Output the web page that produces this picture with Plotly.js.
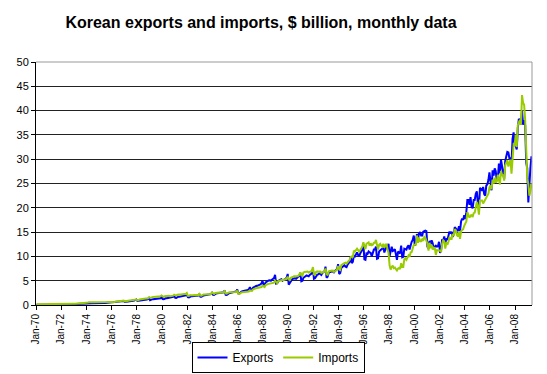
<!DOCTYPE html>
<html>
<head>
<meta charset="utf-8">
<script src="https://cdn.plot.ly/plotly-3.0.1.min.js"></script>
<style>html,body{margin:0;padding:0;background:#fff;}#chart{width:547px;height:374px;}</style>
</head>
<body>
<div id="chart"></div>
<script>
// Monthly data, Jan 1970 .. Apr 2009 ($ billion)
var startYear = 1970;
var exports = [
/*1970*/0.05,0.05,0.06,0.06,0.07,0.07,0.07,0.07,0.08,0.08,0.08,0.10,
/*1971*/0.07,0.07,0.08,0.09,0.09,0.09,0.09,0.09,0.09,0.10,0.10,0.13,
/*1972*/0.10,0.10,0.12,0.12,0.13,0.13,0.14,0.14,0.15,0.15,0.16,0.18,
/*1973*/0.18,0.18,0.22,0.24,0.26,0.27,0.28,0.28,0.30,0.31,0.32,0.38,
/*1974*/0.32,0.30,0.36,0.38,0.39,0.38,0.37,0.36,0.36,0.38,0.39,0.47,
/*1975*/0.32,0.30,0.36,0.38,0.41,0.42,0.44,0.45,0.45,0.47,0.48,0.56,
/*1976*/0.48,0.50,0.58,0.60,0.62,0.64,0.66,0.66,0.68,0.70,0.72,0.84,
/*1977*/0.65,0.66,0.76,0.78,0.80,0.82,0.84,0.85,0.88,0.90,0.96,1.14,
/*1978*/0.82,0.84,0.96,0.98,1.02,1.04,1.06,1.08,1.10,1.14,1.22,1.45,
/*1979*/0.98,1.00,1.16,1.20,1.24,1.22,1.25,1.26,1.28,1.32,1.40,1.66,
/*1980*/1.20,1.18,1.32,1.38,1.40,1.44,1.44,1.46,1.50,1.56,1.66,1.96,
/*1981*/1.48,1.45,1.62,1.70,1.72,1.74,1.78,1.80,1.82,1.88,1.98,2.32,
/*1982*/1.60,1.55,1.72,1.78,1.80,1.82,1.80,1.82,1.85,1.88,1.96,2.26,
/*1983*/1.70,1.68,1.92,1.96,2.00,2.04,2.06,2.08,2.12,2.16,2.24,2.52,
/*1984*/2.10,2.05,2.30,2.36,2.40,2.42,2.44,2.48,2.52,2.56,2.62,3.00,
/*1985*/2.10,2.08,2.30,2.40,2.46,2.50,2.52,2.56,2.62,2.68,2.78,3.20,
/*1986*/2.40,2.35,2.62,2.76,2.82,2.86,2.90,2.95,3.02,3.10,3.22,3.68,
/*1987*/3.20,3.10,3.55,3.70,3.80,3.90,3.95,4.00,4.10,4.25,4.40,5.00,
/*1988*/4.20,4.10,4.65,4.85,4.95,5.05,5.10,5.00,5.20,5.35,5.55,6.20,
/*1989*/4.40,4.50,4.90,5.10,5.20,5.30,5.00,5.10,5.30,5.40,5.60,6.40,
/*1990*/4.20,4.60,5.10,5.20,5.40,5.50,5.50,5.40,5.70,5.80,6.00,6.60,
/*1991*/4.90,5.00,5.60,5.80,6.00,6.10,6.00,5.90,6.20,6.40,6.50,7.40,
/*1992*/5.40,5.50,6.00,6.20,6.30,6.50,6.40,6.20,6.60,6.80,6.90,7.90,
/*1993*/5.60,5.80,6.60,6.80,6.80,7.00,6.90,6.70,7.00,7.20,7.40,8.40,
/*1994*/6.40,6.60,7.60,7.80,8.00,8.20,7.90,7.80,8.30,8.60,8.90,9.90,
/*1995*/8.60,8.90,10.2,10.0,10.4,10.8,10.3,10.0,10.6,11.2,11.4,12.6,
/*1996*/9.40,9.30,10.6,10.5,11.0,10.8,10.7,10.0,10.6,11.4,11.4,12.0,
/*1997*/9.50,9.60,11.0,11.3,11.4,11.6,11.8,10.8,11.7,12.0,11.9,12.6,
/*1998*/10.1,10.8,12.0,11.1,11.2,11.5,10.5,9.30,11.0,10.8,10.6,12.2,
/*1999*/9.80,9.90,11.6,11.5,11.4,12.0,12.3,11.4,12.6,13.0,13.4,14.3,
/*2000*/12.2,12.8,14.6,13.6,14.7,15.0,14.3,14.3,15.1,15.2,15.3,15.2,
/*2001*/12.0,11.6,13.2,12.5,13.3,12.7,11.5,12.0,12.2,12.0,12.1,13.0,
/*2002*/10.7,11.3,13.5,13.3,14.1,12.7,13.7,13.4,14.3,15.1,14.7,15.1,
/*2003*/14.0,14.5,16.0,15.7,15.6,15.2,16.2,15.2,17.2,17.8,17.5,18.5,
/*2004*/17.7,19.1,21.6,21.6,20.6,22.2,20.2,19.9,21.6,21.6,22.9,23.4,
/*2005*/20.8,20.0,24.1,23.8,23.5,24.3,22.8,22.5,24.6,24.8,25.7,27.3,
/*2006*/24.5,23.6,27.7,26.6,28.1,27.5,25.6,26.0,29.1,27.1,29.9,28.4,
/*2007*/27.2,25.9,29.6,30.4,31.5,31.4,30.2,30.2,29.1,34.2,35.5,33.3,
/*2008*/32.3,32.0,36.4,38.3,38.0,37.1,40.0,37.1,38.0,37.0,29.3,28.1,
/*2009*/21.1,25.4,28.2,30.6
];
var imports = [
/*1970*/0.14,0.13,0.16,0.17,0.16,0.17,0.17,0.16,0.17,0.17,0.17,0.21,
/*1971*/0.17,0.16,0.19,0.20,0.20,0.21,0.20,0.19,0.20,0.21,0.21,0.25,
/*1972*/0.18,0.17,0.20,0.20,0.21,0.20,0.21,0.20,0.22,0.22,0.23,0.27,
/*1973*/0.26,0.25,0.30,0.32,0.33,0.34,0.36,0.37,0.37,0.39,0.42,0.46,
/*1974*/0.48,0.50,0.55,0.60,0.58,0.57,0.59,0.58,0.56,0.57,0.58,0.65,
/*1975*/0.55,0.52,0.58,0.60,0.60,0.62,0.60,0.60,0.61,0.64,0.63,0.72,
/*1976*/0.60,0.58,0.68,0.72,0.72,0.73,0.75,0.74,0.76,0.78,0.80,0.90,
/*1977*/0.75,0.72,0.84,0.88,0.90,0.92,0.90,0.90,0.94,0.96,0.98,1.12,
/*1978*/0.98,0.96,1.12,1.18,1.22,1.24,1.28,1.30,1.34,1.36,1.38,1.58,
/*1979*/1.50,1.45,1.62,1.70,1.72,1.72,1.68,1.70,1.72,1.76,1.78,1.95,
/*1980*/1.70,1.65,1.80,1.86,1.84,1.86,1.88,1.82,1.86,1.90,1.92,2.12,
/*1981*/1.95,1.90,2.10,2.20,2.18,2.16,2.22,2.18,2.20,2.24,2.26,2.46,
/*1982*/1.90,1.85,2.00,2.05,2.02,2.00,2.04,1.98,2.00,2.04,2.06,2.30,
/*1983*/1.95,1.92,2.10,2.16,2.18,2.20,2.20,2.18,2.20,2.24,2.28,2.54,
/*1984*/2.30,2.28,2.46,2.52,2.55,2.56,2.58,2.52,2.56,2.60,2.64,2.85,
/*1985*/2.40,2.35,2.52,2.58,2.60,2.62,2.60,2.58,2.60,2.64,2.68,2.95,
/*1986*/2.35,2.30,2.52,2.60,2.62,2.64,2.66,2.62,2.66,2.70,2.76,3.00,
/*1987*/2.95,2.90,3.20,3.35,3.40,3.45,3.50,3.45,3.50,3.60,3.70,4.00,
/*1988*/3.80,3.70,4.10,4.25,4.30,4.35,4.40,4.35,4.40,4.50,4.60,5.00,
/*1989*/4.60,4.50,4.90,5.00,5.10,5.20,5.20,5.10,5.20,5.30,5.40,5.80,
/*1990*/5.20,5.00,5.60,5.80,5.80,5.90,5.90,5.80,5.90,6.00,6.20,6.70,
/*1991*/6.10,6.00,6.70,6.80,6.80,6.90,6.90,6.70,6.80,7.00,7.00,7.80,
/*1992*/6.30,6.20,6.80,6.90,6.80,6.90,6.90,6.60,6.70,6.80,6.90,7.50,
/*1993*/6.30,6.20,6.90,7.00,7.00,7.00,7.10,6.80,6.90,7.10,7.30,8.00,
/*1994*/7.30,7.20,8.20,8.40,8.50,8.60,8.70,8.50,8.80,9.00,9.30,9.90,
/*1995*/10.0,9.80,11.2,11.0,11.4,11.6,11.3,11.0,11.3,11.6,12.0,12.9,
/*1996*/11.8,11.5,12.6,12.8,12.9,12.2,12.7,12.3,12.4,12.8,12.8,13.4,
/*1997*/12.4,11.4,12.4,12.6,12.2,12.0,12.6,11.8,12.3,12.6,11.4,10.7,
/*1998*/8.10,7.30,7.80,8.10,7.60,7.70,7.40,7.10,7.50,7.60,7.40,8.60,
/*1999*/7.80,7.80,9.40,9.60,9.30,9.70,10.2,9.90,10.8,10.9,11.8,12.4,
/*2000*/12.4,12.4,14.3,12.8,13.9,13.1,13.1,13.5,13.2,14.0,13.8,13.0,
/*2001*/12.6,11.2,12.8,11.7,12.4,11.4,11.8,11.7,10.3,11.3,11.2,11.2,
/*2002*/11.2,10.9,12.6,13.3,13.1,11.6,12.9,12.4,13.0,14.0,13.6,13.6,
/*2003*/14.6,14.2,15.6,15.4,14.4,14.1,15.1,13.6,15.2,15.5,15.6,16.3,
/*2004*/16.9,17.2,19.1,18.4,18.0,18.3,18.6,18.1,18.9,19.0,20.1,21.2,
/*2005*/20.2,18.6,21.5,21.5,21.5,20.9,21.3,21.9,22.1,22.7,22.9,24.2,
/*2006*/24.6,23.8,25.8,25.0,26.2,25.2,25.4,26.8,25.6,24.8,27.6,26.6,
/*2007*/26.8,25.6,28.7,29.2,29.8,28.5,29.4,29.9,27.0,31.6,33.0,32.9,
/*2008*/35.0,32.5,37.0,37.6,38.1,37.1,43.2,41.6,41.2,38.1,29.0,26.1,
/*2009*/24.9,22.5,23.4,25.0
];
var tickEvery = 24; // months between axis labels

var monthIdx = exports.map(function(_, i){ return i + 0.5; });
var tickVals = [], tickText = [];
for (var m = 0; m <= exports.length - 1; m += tickEvery) {
  tickVals.push(m);
  var yr = (startYear + m / 12) % 100;
  tickText.push('Jan-' + (yr < 10 ? '0' : '') + yr);
}

var FONT = 'Liberation Sans, Arial, sans-serif';
var traces = [
  {x: monthIdx, y: exports, name: 'Exports', type: 'scatter', mode: 'lines',
   line: {color: '#0000FF', width: 2}},
  {x: monthIdx, y: imports, name: 'Imports', type: 'scatter', mode: 'lines',
   line: {color: '#99CC00', width: 2}}
];
var layout = {
  width: 547, height: 374,
  margin: {l: 36, r: 15, t: 62, b: 69, pad: 0, autoexpand: false},
  paper_bgcolor: '#fff', plot_bgcolor: '#fff',
  font: {family: FONT, color: '#000'},
  title: {text: '<b>Korean exports and imports, $ billion, monthly data</b>',
          font: {family: FONT, size: 16, color: '#000'},
          x: 261/547, xanchor: 'center', xref: 'container', y: 1 - 22/374, yanchor: 'middle', yref: 'container'},
  xaxis: {range: [0, exports.length], tickmode: 'array', tickvals: tickVals, ticktext: tickText,
          tickangle: -90, ticks: 'outside', ticklen: 4, tickcolor: '#000',
          tickfont: {family: FONT, size: 10, color: '#000'},
          showgrid: false, zeroline: false, showline: true, linecolor: '#000', linewidth: 1,
          fixedrange: true, automargin: false},
  yaxis: {range: [0, 50], dtick: 5, tick0: 0, ticks: 'outside', ticklen: 4, tickcolor: '#000',
          tickfont: {family: FONT, size: 11, color: '#000'},
          showgrid: true, gridcolor: '#222', gridwidth: 1,
          zeroline: false, showline: true, linecolor: '#000', linewidth: 1, fixedrange: true, automargin: false},
  shapes: [
    {type: 'line', xref: 'paper', yref: 'paper', x0: 0, x1: 1, y0: 1, y1: 1, line: {color: '#999', width: 1}},
    {type: 'line', xref: 'paper', yref: 'paper', x0: 1, x1: 1, y0: 0, y1: 1, line: {color: '#999', width: 1}}
  ],
  showlegend: true,
  legend: {orientation: 'h', x: 278/547, xanchor: 'center', xref: 'container',
           y: (374 - 342) / 374, yanchor: 'top', yref: 'container',
           bordercolor: '#000', borderwidth: 1, bgcolor: '#fff',
           font: {family: FONT, size: 12, color: '#000'}, itemwidth: 30, tracegroupgap: 0}
};
Plotly.newPlot('chart', traces, layout, {displayModeBar: false, staticPlot: true});
</script>
</body>
</html>
